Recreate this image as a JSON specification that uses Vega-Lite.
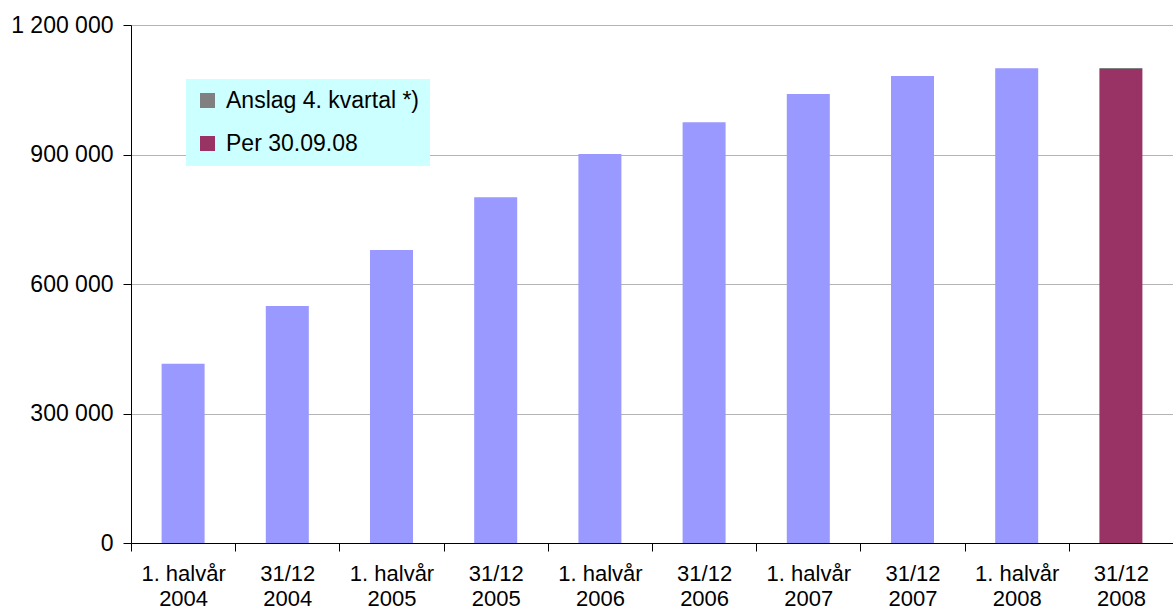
{
  "$schema": "https://vega.github.io/schema/vega-lite/v6.json",
  "width": 1042,
  "height": 518,
  "autosize": "none",
  "padding": {"left": 131, "top": 25, "right": 0, "bottom": 72},
  "background": "white",
  "config": {
    "font": "Liberation Sans",
    "view": {"stroke": null}
  },
  "data": {
    "values": [
      {"period": "1. halvår|2004", "series": "Total", "value": 415000, "ord": 1},
      {"period": "31/12|2004", "series": "Total", "value": 549000, "ord": 1},
      {"period": "1. halvår|2005", "series": "Total", "value": 679000, "ord": 1},
      {"period": "31/12|2005", "series": "Total", "value": 801000, "ord": 1},
      {"period": "1. halvår|2006", "series": "Total", "value": 901000, "ord": 1},
      {"period": "31/12|2006", "series": "Total", "value": 975000, "ord": 1},
      {"period": "1. halvår|2007", "series": "Total", "value": 1040000, "ord": 1},
      {"period": "31/12|2007", "series": "Total", "value": 1082000, "ord": 1},
      {"period": "1. halvår|2008", "series": "Total", "value": 1100000, "ord": 1},
      {"period": "31/12|2008", "series": "Per 30.09.08", "value": 1098000, "ord": 1},
      {"period": "31/12|2008", "series": "Anslag 4. kvartal *)", "value": 2500, "ord": 2}
    ]
  },
  "mark": {"type": "bar", "width": 43},
  "encoding": {
    "x": {
      "field": "period",
      "type": "nominal",
      "sort": null,
      "title": null,
      "scale": {"paddingInner": 0, "paddingOuter": 0},
      "axis": {
        "labelAngle": 0,
        "labelExpr": "split(datum.label, '|')",
        "labelFontSize": 22,
        "labelColor": "black",
        "labelLineHeight": 25,
        "labelPadding": 12,
        "tickBand": "extent",
        "tickSize": 8,
        "tickColor": "black",
        "domainColor": "black",
        "grid": false
      }
    },
    "y": {
      "field": "value",
      "type": "quantitative",
      "stack": "zero",
      "title": null,
      "scale": {"domain": [0, 1200000], "nice": false},
      "axis": {
        "values": [0, 300000, 600000, 900000, 1200000],
        "labelExpr": "replace(replace(format(datum.value, ',d'), ',', ' '), ',', ' ')",
        "labelFontSize": 23,
        "labelColor": "black",
        "labelPadding": 10,
        "tickSize": 8,
        "tickColor": "black",
        "domainColor": "black",
        "gridColor": "#b4b4b4",
        "grid": true
      }
    },
    "color": {
      "field": "series",
      "type": "nominal",
      "scale": {
        "domain": ["Total", "Per 30.09.08", "Anslag 4. kvartal *)"],
        "range": ["#9999FF", "#993366", "#808080"]
      },
      "legend": {
        "values": ["Anslag 4. kvartal *)", "Per 30.09.08"],
        "title": null,
        "orient": "none",
        "legendX": 55,
        "legendY": 54,
        "fillColor": "#CCFFFF",
        "padding": 10,
        "symbolType": "square",
        "symbolSize": 225,
        "symbolStrokeWidth": 0,
        "labelFontSize": 23,
        "labelColor": "black",
        "labelOffset": 7,
        "rowPadding": 19,
        "labelLimit": 400
      }
    },
    "order": {"field": "ord", "type": "quantitative"}
  }
}
